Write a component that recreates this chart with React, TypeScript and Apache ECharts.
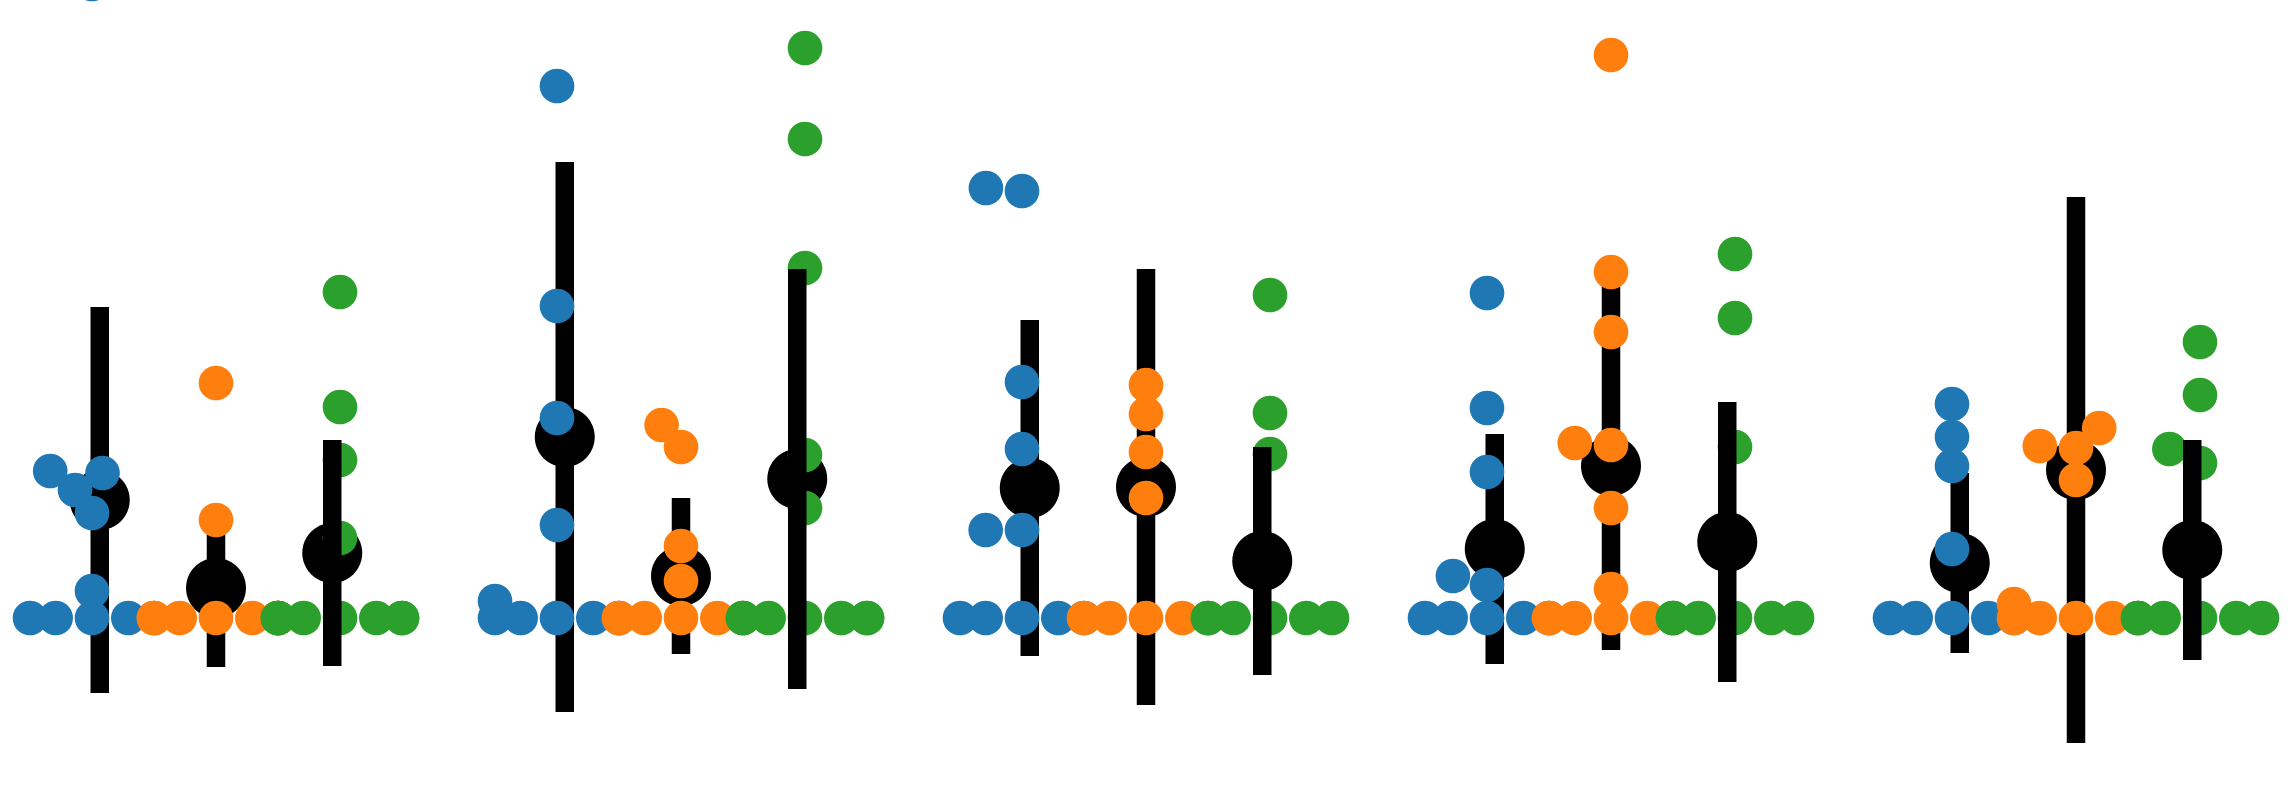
import React, { useEffect, useRef } from "react";
import * as echarts from "echarts";

// ---- data (values in arbitrary units; baseline = 0) ----
const groupNames = ["G1", "G2", "G3", "G4", "G5"];
const hueNames = ["blue", "orange", "green"];
const hueColors = ["#1f77b4", "#ff7f0e", "#2ca02c"];

const blueValues: number[][] = [
  [0, 0, 0, 0, 2.7, 10.5, 12.8, 14.5, 14.7, 63.4],
  [0, 0, 0, 0, 0, 1.7, 9.3, 20.0, 31.2, 53.2],
  [0, 0, 0, 0, 0, 8.8, 8.8, 16.9, 23.6, 42.7, 43.0],
  [0, 0, 0, 0, 0, 3.3, 4.2, 14.6, 21.0, 32.5],
  [0, 0, 0, 0, 0, 6.9, 15.2, 18.1, 21.4],
];
const orangeValues: number[][] = [
  [0, 0, 0, 0, 0, 0, 0, 0, 0, 9.8, 23.5],
  [0, 0, 0, 0, 0, 0, 3.7, 7.2, 17.1, 19.3],
  [0, 0, 0, 0, 0, 12.0, 16.6, 20.4, 23.3],
  [0, 0, 0, 0, 0, 0, 2.9, 11.0, 17.3, 17.5, 28.6, 34.6, 56.3],
  [0, 0, 0, 0, 0, 1.4, 13.8, 17.0, 17.2, 19.0],
];
const greenValues: number[][] = [
  [0, 0, 0, 0, 0, 0, 0, 0, 8.0, 15.8, 21.1, 32.6],
  [0, 0, 0, 0, 0, 0, 0, 11.0, 16.3, 35.0, 47.9, 57.0],
  [0, 0, 0, 0, 0, 0, 16.4, 20.5, 32.3],
  [0, 0, 0, 0, 0, 0, 17.1, 30.0, 36.4],
  [0, 0, 0, 0, 0, 0, 15.5, 16.9, 22.3, 27.6],
];

const blueMean = [11.8, 18.1, 13.0, 6.9, 5.5];
const orangeMean = [3.0, 4.2, 13.1, 15.2, 14.8];
const greenMean = [6.5, 13.9, 5.7, 7.6, 6.8];
const blueSd = [19.3, 27.5, 16.8, 11.5, 9.0];
const orangeSd = [7.9, 7.8, 21.8, 18.4, 27.3];
const greenSd = [11.3, 21.0, 11.4, 14.0, 11.0];

// ---- layout / style ----
const CHART_W = 2294;
const CHART_H = 798;
const GRID_LEFT = 30;
const GRID_RIGHT = 32;
const X_MIN = -0.4;
const X_MAX = 4.4;
const Y_MIN = -18;
const Y_MAX = 61.8;
const DODGE_WIDTH = 0.8;
const POINT_DODGE = 0.25;
const SWARM_SIZE = 34.6;
const MEAN_SIZE = 60;
const BAR_W = 18.5;
const SWARM_ASPECT = 1.33;

const pxPerCat = (CHART_W - GRID_LEFT - GRID_RIGHT) / (X_MAX - X_MIN);
const pxPerUnit = CHART_H / (Y_MAX - Y_MIN);

function beeswarm(vals: number[], r: number, halfWidth: number): number[] {
  const idx = vals.map((_, i) => i).sort((a, b) => vals[a] - vals[b] || a - b);
  const placed: { x: number; y: number }[] = [];
  const out: number[] = new Array(vals.length).fill(0);
  for (const i of idx) {
    const y = vals[i] * pxPerUnit * SWARM_ASPECT;
    if (placed.length === 0) {
      placed.push({ x: 0, y });
      out[i] = 0;
      continue;
    }
    const neighbors: { x: number; y: number }[] = [];
    for (let k = placed.length - 1; k >= 0; k--) {
      if (y - placed[k].y < 2 * r) neighbors.push(placed[k]);
      else break;
    }
    const cands: number[] = [0];
    let leftFirst = true;
    for (const n of neighbors) {
      const dy = y - n.y;
      const dx = Math.sqrt(Math.max(4 * r * r - dy * dy, 0)) * 1.05;
      if (leftFirst) cands.push(n.x - dx, n.x + dx);
      else cands.push(n.x + dx, n.x - dx);
      leftFirst = !leftFirst;
    }
    const order = cands
      .map((_, k) => k)
      .sort((a, b) => {
        const d = Math.abs(cands[a]) - Math.abs(cands[b]);
        if (Math.abs(d) > 1e-6) return d;
        if (Math.abs(cands[a] - cands[b]) > 1e-6) return cands[a] - cands[b];
        return a - b;
      });
    let chosen = 0;
    for (const k of order) {
      const cx = cands[k];
      let ok = true;
      for (const n of neighbors) {
        const ddx = n.x - cx;
        const ddy = n.y - y;
        if (ddx * ddx + ddy * ddy < 4 * r * r - 1e-6) {
          ok = false;
          break;
        }
      }
      if (ok) {
        chosen = cx;
        break;
      }
    }
    placed.push({ x: chosen, y });
    out[i] = chosen;
  }
  return out.map((o) => Math.max(-halfWidth, Math.min(halfWidth, o)));
}

const allValues = [blueValues, orangeValues, greenValues];
const allMeans = [blueMean, orangeMean, greenMean];
const allSd = [blueSd, orangeSd, greenSd];

function swarmData(h: number): number[][] {
  const res: number[][] = [];
  const hueOffset = (h - 1) * (DODGE_WIDTH / 3);
  const halfWidthPx = (DODGE_WIDTH / 3 / 2) * pxPerCat;
  allValues[h].forEach((vals, g) => {
    const offs = beeswarm(vals, SWARM_SIZE / 2, halfWidthPx);
    vals.forEach((v, i) => res.push([g + hueOffset + offs[i] / pxPerCat, v]));
  });
  return res;
}

function barData(hs: number[]): number[][] {
  const res: number[][] = [];
  hs.forEach((h) => {
    groupNames.forEach((_, g) => {
      const x = g + (h - 1) * POINT_DODGE;
      const m = allMeans[h][g];
      const s = allSd[h][g];
      res.push([x, m - s, m + s]);
    });
  });
  return res;
}

function meanData(): number[][] {
  const res: number[][] = [];
  hueNames.forEach((_, h) => {
    groupNames.forEach((_, g) => res.push([g + (h - 1) * POINT_DODGE, allMeans[h][g]]));
  });
  return res;
}

const renderBar = (params: any, api: any) => {
  const x = api.value(0);
  const lo = api.value(1);
  const hi = api.value(2);
  const p1 = api.coord([x, hi]);
  const p2 = api.coord([x, lo]);
  return {
    type: "rect",
    shape: { x: p1[0] - BAR_W / 2, y: p1[1], width: BAR_W, height: p2[1] - p1[1] },
    style: { fill: "#000000" },
  };
};

export default function App() {
  const ref = useRef<HTMLDivElement>(null);
  useEffect(() => {
    if (!ref.current) return;
    const chart = echarts.init(ref.current, undefined, { renderer: "svg" });
    chart.setOption({
      animation: false,
      backgroundColor: "#ffffff",
      grid: { left: GRID_LEFT, right: GRID_RIGHT, top: 0, bottom: 0 },
      xAxis: { type: "value", min: X_MIN, max: X_MAX, show: false },
      yAxis: { type: "value", min: Y_MIN, max: Y_MAX, show: false },
      series: [
        {
          name: "mean",
          type: "scatter",
          data: meanData(),
          symbol: "circle",
          symbolSize: MEAN_SIZE,
          itemStyle: { color: "#000000", opacity: 1 },
          clip: false,
          z: 1,
          silent: true,
        },
        {
          name: "sd-01",
          type: "custom",
          data: barData([0, 1]),
          renderItem: renderBar,
          clip: false,
          z: 2,
          silent: true,
        },
        ...hueNames.map((name, h) => ({
          name,
          type: "scatter",
          data: swarmData(h),
          symbol: "circle",
          symbolSize: SWARM_SIZE,
          itemStyle: { color: hueColors[h], opacity: 1 },
          clip: false,
          z: 3 + h,
          silent: true,
        })),
        {
          name: "sd-2",
          type: "custom",
          data: barData([2]),
          renderItem: renderBar,
          clip: false,
          z: 6,
          silent: true,
        },
      ],
    });
    return () => chart.dispose();
  }, []);
  return (
    <div
      ref={ref}
      style={{ position: "fixed", left: 0, top: 0, width: CHART_W, height: CHART_H, background: "#fff" }}
    />
  );
}
